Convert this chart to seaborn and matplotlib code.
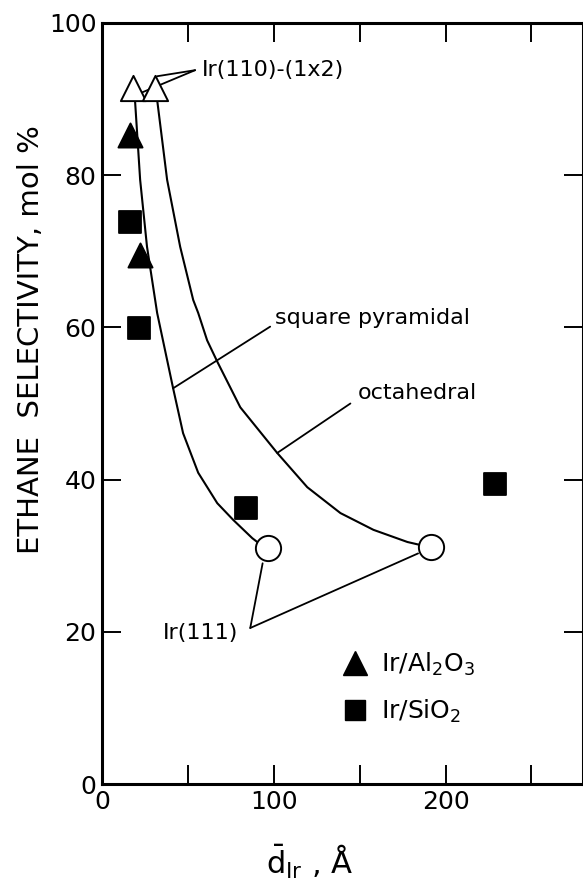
import matplotlib
matplotlib.use("Agg")
import matplotlib.pyplot as plt
import seaborn as sns
import pandas as pd
from matplotlib.lines import Line2D

# ---- data ----
al2o3_d = [16.3, 22.2]
al2o3_sel = [85.3, 69.5]
sio2_d = [16.3, 21.6, 84.0, 229.0]
sio2_sel = [73.9, 59.9, 36.3, 39.4]
ir110_d = [18.1, 30.9]
ir110_sel = [91.5, 91.5]
ir111_d = [96.8, 191.3]
ir111_sel = [31.0, 31.1]

sqpyr_d = [19.2, 22.2, 26.2, 32.1, 36.7, 41.4, 47.2, 56.0, 67.1, 76.4, 87.5, 95.0]
sqpyr_sel = [89.9, 79.4, 70.6, 61.9, 57.0, 52.0, 46.1, 40.9, 36.9, 34.7, 32.3, 31.0]
octa_d = [32.1, 37.9, 45.5, 53.1, 56.0, 61.2, 67.1, 80.5, 102.0, 119.5, 138.8, 158.0,
          177.8, 185.4]
octa_sel = [89.9, 79.4, 70.6, 63.6, 61.9, 58.3, 55.5, 49.5, 43.5, 39.0, 35.6, 33.4,
            31.8, 31.4]

xticks = [0, 50, 100, 150, 200, 250]
xticklabels = ["0", "", "100", "", "200", ""]
yticks = [0, 20, 40, 60, 80, 100]
yticklabels = ["0", "20", "40", "60", "80", "100"]

sns.set_theme(style="ticks")
plt.rcParams['font.family'] = ['DejaVu Sans']
plt.rcParams['text.color'] = 'black'
plt.rcParams['xtick.color'] = 'black'
plt.rcParams['ytick.color'] = 'black'

fig = plt.figure(figsize=(5.83, 8.88), dpi=100)
ax = fig.add_axes([102/583, 1-784/888, 481/583, (784-23)/888])

sq_df = pd.DataFrame({"d": sqpyr_d, "s": sqpyr_sel})
oc_df = pd.DataFrame({"d": octa_d, "s": octa_sel})
sns.lineplot(data=sq_df, x="d", y="s", ax=ax, color="black", lw=1.5, sort=False)
sns.lineplot(data=oc_df, x="d", y="s", ax=ax, color="black", lw=1.5, sort=False)

# leader lines
lk = dict(color="black", lw=1.3)
ax.plot([54.2, 22.5], [93.8, 90.8], **lk)
ax.plot([54.2, 32.0], [93.8, 93.0], **lk)
ax.plot([86.3, 93.5], [20.5, 29.0], **lk)
ax.plot([86.3, 184.0], [20.5, 30.3], **lk)
ax.plot([41.4, 97.9], [52.0, 60.1], **lk)
ax.plot([102.0, 144.6], [43.5, 50.0], **lk)

sns.scatterplot(x=ir110_d, y=ir110_sel, ax=ax, marker="^", s=330, color="white",
                edgecolor="black", linewidth=1.4, zorder=5)
sns.scatterplot(x=ir111_d, y=ir111_sel, ax=ax, marker="o", s=330, color="white",
                edgecolor="black", linewidth=1.4, zorder=5)
sns.scatterplot(x=al2o3_d, y=al2o3_sel, ax=ax, marker="^", s=300, color="black",
                edgecolor="black", zorder=6)
sns.scatterplot(x=sio2_d, y=sio2_sel, ax=ax, marker="s", s=260, color="black",
                edgecolor="black", zorder=6)

ax.set_xlim(0, 280)
ax.set_ylim(0, 100)
ax.set_xticks(xticks)
ax.set_xticklabels(xticklabels)
ax.set_yticks(yticks)
ax.set_yticklabels(yticklabels)
ax.tick_params(direction="in", length=14, width=1.4, labelsize=18, top=True, right=True,
               pad=4, colors="black")
for sp in ax.spines.values():
    sp.set_linewidth(2.2)
    sp.set_color("black")
ax.set_xlabel("")
ax.set_ylabel("")

fig.text(31/583, 1-340/888, "ETHANE  SELECTIVITY, mol %", rotation=90, ha="center",
         va="center", fontsize=21, color="black")
fig.text(310/583, 1-862/888, r"$\bar{\mathrm{d}}_{\mathrm{Ir}}$ , Å", ha="center",
         va="center", fontsize=22, color="black")

ax.text(58.3, 93.8, "Ir(110)-(1x2)", fontsize=16, va="center", ha="left")
ax.text(35.6, 19.8, "Ir(111)", fontsize=16, va="center", ha="left")
ax.text(100.5, 61.2, "square pyramidal", fontsize=16, va="center", ha="left")
ax.text(148.7, 51.4, "octahedral", fontsize=16, va="center", ha="left")

handles = [Line2D([], [], marker="^", color="black", ls="", markersize=17),
           Line2D([], [], marker="s", color="black", ls="", markersize=15)]
ax.legend(handles, [r"Ir/Al$_2$O$_3$", r"Ir/SiO$_2$"], loc="upper left",
          bbox_to_anchor=(0.44, 0.205), frameon=False, fontsize=18,
          handletextpad=0.3, labelspacing=0.8, handlelength=1.5)

fig.savefig("out.png", dpi=100)
